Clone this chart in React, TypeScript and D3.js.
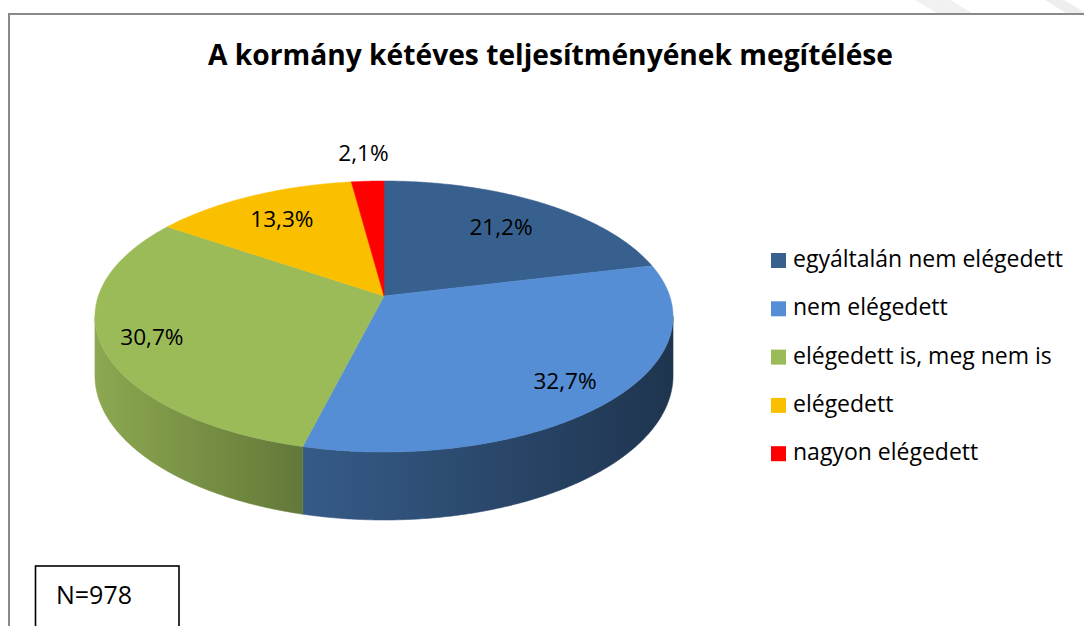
import React from "react";
import * as d3 from "d3";

// ---- data ----
const categories = [
  "egyáltalán nem elégedett",
  "nem elégedett",
  "elégedett is, meg nem is",
  "elégedett",
  "nagyon elégedett",
];
const values = [21.2, 32.7, 30.7, 13.3, 2.1];
const colors = ["#37608F", "#558ED5", "#9BBB59", "#FAC000", "#FF0000"];
const title = "A kormány kétéves teljesítményének megítélése";
const sampleNote = "N=978";

// ---- layout ----
const W = 1084;
const H = 626;
const CX = 384;
const CY = 296;
const RA = 285.7;
const RB = 132.4;
const K = 0.1513;
const DEPTH = 57.7;
const labelRadius = [0.72, 0.82, 0.83, 0.75, 1.3];
const FONT = "'Open Sans', 'Noto Sans', sans-serif";

function proj(theta: number, r = 1): [number, number, number] {
  const u = r * Math.sin(theta);
  const v = -r * Math.cos(theta);
  const s = 1 / (1 - K * v);
  return [CX + RA * u * s, CY + RB * v * s, s];
}

function arcPoints(a0: number, a1: number): [number, number, number][] {
  const n = Math.max(2, Math.ceil(((a1 - a0) * 180) / Math.PI) * 2);
  return d3.range(n + 1).map((i) => proj(a0 + ((a1 - a0) * i) / n));
}

const shade = (c: string, f: number) => {
  const r = d3.rgb(c);
  return d3.rgb(r.r * f, r.g * f, r.b * f).formatHex();
};

const fmt = (v: number) => v.toFixed(1).replace(".", ",") + "%";

export default function App() {
  const pie = d3
    .pie<number>()
    .sort(null)
    .value((d) => d)
    .startAngle(0)
    .endAngle(2 * Math.PI);
  const arcs = pie(values);

  const thL = Math.acos(-K); // right silhouette
  const thR = 2 * Math.PI - thL; // left silhouette
  const xRight = proj(thL)[0];
  const xLeft = proj(thR)[0];
  const midFrac = (303 - xLeft) / (xRight - xLeft);

  const sides = arcs.map((a, i) => {
    const s0 = Math.max(a.startAngle, thL);
    const s1 = Math.min(a.endAngle, thR);
    if (s1 <= s0) return null;
    const top = arcPoints(s0, s1);
    const bottom = top.map(([x, y, s]) => [x, y + DEPTH * s] as [number, number]).reverse();
    const pts = [...top.map(([x, y]) => [x, y]), ...bottom];
    const d = "M" + pts.map((p) => p[0].toFixed(2) + "," + p[1].toFixed(2)).join("L") + "Z";
    return <path key={"s" + i} d={d} fill={`url(#side${i})`} stroke={`url(#side${i})`} strokeWidth={0.6} />;
  });

  const tops = arcs.map((a, i) => {
    const pts = arcPoints(a.startAngle, a.endAngle);
    const d =
      `M${CX},${CY}L` +
      pts.map((p) => p[0].toFixed(2) + "," + p[1].toFixed(2)).join("L") +
      "Z";
    return <path key={"t" + i} d={d} fill={colors[i]} stroke={colors[i]} strokeWidth={0.5} />;
  });

  const labels = arcs.map((a, i) => {
    const mid = (a.startAngle + a.endAngle) / 2;
    const [x, y] = proj(mid, labelRadius[i]);
    return (
      <text
        key={"l" + i}
        x={x}
        y={y + 8.2}
        textAnchor="middle"
        fontFamily={FONT}
        fontSize={22.6}
        fill="#000"
      >
        {fmt(values[i])}
      </text>
    );
  });

  const legendY0 = 267;
  const legendStep = 48.3;

  return (
    <svg
      width={W}
      height={H}
      viewBox={`0 0 ${W} ${H}`}
      style={{ position: "absolute", left: 0, top: 0, background: "#fff" }}
    >
      <defs>
        {colors.map((c, i) => (
          <linearGradient
            key={i}
            id={`side${i}`}
            gradientUnits="userSpaceOnUse"
            x1={xLeft}
            x2={xRight}
            y1={0}
            y2={0}
          >
            <stop offset={0} stopColor={shade(c, 0.9)} />
            <stop offset={midFrac} stopColor={shade(c, 0.64)} />
            <stop offset={1} stopColor={shade(c, 0.37)} />
          </linearGradient>
        ))}
      </defs>

      {/* faint background stripes at top right */}
      <polygon points="915,0 950,0 972,13 937,13" fill="#f1f1f1" />
      <polygon points="1045,0 1064,0 1084,12 1084,13 1066,13" fill="#eeeeee" />

      {/* chart frame */}
      <path d={`M9,${H} V14 H${W}`} fill="none" stroke="#8a8a8a" strokeWidth={2} />

      <text
        x={208}
        y={65}
        fontFamily={FONT}
        fontWeight={700}
        fontSize={29}
        textLength={685}
        lengthAdjust="spacingAndGlyphs"
        fill="#000"
      >
        {title}
      </text>

      {sides}
      {tops}
      {labels}

      {categories.map((c, i) => (
        <g key={"lg" + i}>
          <rect x={771} y={legendY0 + i * legendStep - 14} width={15} height={15} fill={colors[i]} />
          <text
            x={793}
            y={legendY0 + i * legendStep}
            fontFamily={FONT}
            fontSize={23}
            fill="#000"
          >
            {c}
          </text>
        </g>
      ))}

      <rect x={35.5} y={566} width={143.5} height={80} fill="#fff" stroke="#000" strokeWidth={1.6} />
      <text x={56} y={604} fontFamily={FONT} fontSize={25} fill="#000">
        {sampleNote}
      </text>
    </svg>
  );
}
